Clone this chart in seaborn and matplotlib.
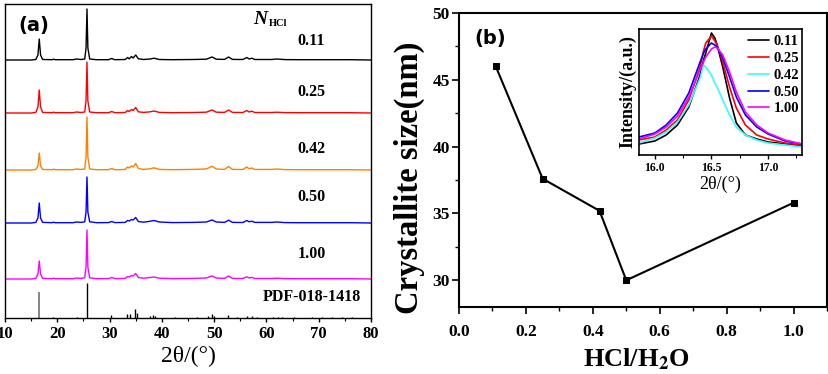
import numpy as np
import pandas as pd
import matplotlib
matplotlib.use("Agg")
import matplotlib.pyplot as plt
from matplotlib.ticker import MultipleLocator
import seaborn as sns

# ---------------- data ----------------
# (a) XRD patterns: 2theta grid and intensities (above each baseline, arbitrary units)
theta = [10, 15.0, 15.9, 16.3, 16.55, 16.8, 17.2, 19.0, 19.3, 19.6, 23.0, 23.7, 24.5,
         25.25, 25.5, 25.68, 25.85, 26.2, 27.5, 29.8, 30.4, 31.0, 33.0, 33.45, 33.75,
         34.2, 34.5, 35.0, 35.5, 36.5, 37.8, 38.5, 39.5, 42.0, 46.0, 48.5, 49.6, 50.4,
         52.0, 52.75, 53.5, 55.5, 56.25, 56.7, 57.2, 57.8, 61.0, 62.0, 63.5, 66.0,
         70.0, 76.0, 80.0]

xrd_011 = [0, 0, 0.5, 5, 21, 5, 0.5, 0.3, 0.8, 0.3, 0.3, 1.0, 0.5,
           1.0, 12, 51, 12, 1.0, 0.3, 0.3, 1.5, 0.3, 0.5, 2.5, 1.2,
           3.5, 2.0, 5.0, 1.2, 0.5, 1.0, 1.8, 0.5, 0.3, 0.5, 0.8, 3.0, 0.8,
           0.6, 3.0, 0.6, 0.5, 2.5, 1.0, 1.8, 0.5, 0.5, 1.0, 0.4, 0.3,
           0.3, 0.3, 0]
xrd_025 = [0, 0, 0.6, 6, 23, 6, 0.6, 0.3, 0.8, 0.3, 0.3, 1.0, 0.5,
           1.0, 12, 51, 12, 1.0, 0.3, 0.3, 1.5, 0.3, 0.5, 2.5, 1.5,
           3.5, 2.5, 5.5, 1.2, 0.6, 1.2, 2.0, 0.6, 0.3, 0.5, 0.8, 3.0, 0.8,
           0.6, 3.0, 0.6, 0.5, 2.5, 1.0, 1.8, 0.5, 0.5, 0.8, 0.4, 0.3,
           0.3, 0.3, 0]
xrd_042 = [0, 0, 0.5, 4, 17, 4, 0.5, 0.3, 0.8, 0.3, 0.3, 1.0, 0.5,
           1.0, 13, 53, 13, 1.0, 0.3, 0.3, 1.5, 0.3, 0.5, 3.0, 2.0,
           4.0, 3.0, 6.5, 1.5, 0.6, 1.2, 2.2, 0.6, 0.3, 0.6, 1.0, 3.8, 1.0,
           0.6, 3.5, 0.6, 0.5, 3.0, 1.2, 2.0, 0.5, 0.6, 1.0, 0.4, 0.3,
           0.3, 0.3, 0]
xrd_050 = [0, 0, 0.6, 5, 20, 5, 0.6, 0.3, 0.8, 0.3, 0.3, 1.0, 0.6,
           1.2, 11, 46, 11, 1.2, 0.3, 0.4, 1.5, 0.4, 0.6, 2.5, 2.0,
           3.5, 3.0, 5.5, 1.5, 0.8, 1.8, 2.5, 1.0, 0.4, 0.6, 1.0, 3.0, 1.0,
           0.6, 2.8, 0.6, 0.5, 2.5, 1.2, 1.8, 0.6, 0.6, 1.0, 0.4, 0.3,
           0.3, 0.3, 0]
xrd_100 = [0, 0, 0.6, 5, 18, 5, 0.6, 0.3, 0.8, 0.3, 0.3, 1.0, 0.6,
           1.2, 12, 49, 12, 1.2, 0.3, 0.4, 1.5, 0.4, 0.6, 2.5, 2.0,
           3.5, 3.0, 5.5, 1.5, 0.8, 1.5, 2.0, 0.8, 0.4, 0.6, 1.0, 3.0, 1.0,
           0.6, 3.0, 0.6, 0.5, 2.2, 1.0, 1.6, 0.5, 0.5, 0.8, 0.4, 0.3,
           0.3, 0.3, 0]

samples = ["0.11", "0.25", "0.42", "0.50", "1.00"]
patterns = [xrd_011, xrd_025, xrd_042, xrd_050, xrd_100]

# standard card PDF-018-1418 stick positions / heights
pdf_pos = [16.57, 19.25, 23.85, 25.63, 30.3, 33.4, 33.9, 34.87, 35.2, 37.8, 38.3,
           38.7, 42.5, 46.7, 48.9, 49.6, 49.9, 52.6, 54.3, 56.2, 57.2, 58.2, 61.3,
           62.2, 63.0, 65.2, 68.7, 70.6, 72.5, 74.5, 76.4]
pdf_h = [26, 1, 1.5, 35, 3, 4, 4, 9, 5, 2.5, 3,
         2, 1, 1, 2, 4, 2, 3, 1, 2, 2, 1, 1.5,
         1.5, 1.5, 1, 1, 1, 1, 1, 1]

# (b) crystallite size vs HCl/H2O
ratio = [0.11, 0.25, 0.42, 0.50, 1.00]
size_nm = [46.0, 37.6, 35.2, 30.0, 35.8]

# inset: peak near 16.5 deg
theta_in = [15.86, 16.0, 16.1, 16.2, 16.3, 16.4, 16.43, 16.45, 16.5, 16.53, 16.55,
            16.6, 16.66, 16.72, 16.8, 16.9, 17.0, 17.15, 17.3]
pk_011 = [11, 14, 20, 30, 48, 80, 95, 102, 122, 117, 110, 88, 57, 32, 20, 16, 13, 11, 9]
pk_025 = [15, 18, 25, 35, 55, 88, 104, 112, 119, 114, 110, 93, 68, 47, 30, 20, 16, 12, 10]
pk_042 = [12, 17, 23, 33, 50, 77, 90, 88, 80, 72, 68, 55, 40, 28, 20, 15, 12, 10, 8]
pk_050 = [18, 22, 30, 42, 62, 93, 102, 106, 112, 110, 108, 97, 78, 58, 40, 28, 21, 14, 11]
pk_100 = [16, 21, 28, 39, 58, 85, 93, 98, 106, 108, 107, 100, 83, 63, 43, 30, 22, 15, 11]
peaks = [pk_011, pk_025, pk_042, pk_050, pk_100]

# ---------------- style ----------------
colors = ["#000000", "#FF0000", "#FF8000", "#0000FF", "#FF00FF"]
inset_colors = ["#000000", "#FF0000", "#33FFFF", "#0000FF", "#FF00FF"]
offsets = [258, 205, 148, 95, 39]
label_y = [277, 226.5, 169, 121, 64]

sns.set_theme(style="ticks")
plt.rcParams["font.family"] = ["Liberation Serif", "DejaVu Serif"]
plt.rcParams["mathtext.fontset"] = "stix"
for k in ["text.color", "axes.labelcolor", "xtick.color", "ytick.color", "axes.edgecolor"]:
    plt.rcParams[k] = "black"

W, H = 829, 374
fig = plt.figure(figsize=(W / 100, H / 100), dpi=100)
axL = fig.add_axes([5 / W, 56 / H, 366 / W, 314 / H])
axR = fig.add_axes([459 / W, 67 / H, 368 / W, 294 / H])
axI = fig.add_axes([639 / W, 219 / H, 163 / W, 126 / H])

# ---------------- panel (a) ----------------
for name, pat, c, off in zip(samples, patterns, colors, offsets):
    df = pd.DataFrame({"theta": theta, "I": np.array(pat) + off})
    sns.lineplot(data=df, x="theta", y="I", color=c, lw=1.0, ax=axL,
                 estimator=None, sort=False, legend=False)
axL.vlines(pdf_pos[:1], 0, pdf_h[:1], colors="#707070", lw=1.2)
axL.vlines(pdf_pos[1:], 0, pdf_h[1:], colors="black", lw=1.0)

axL.set_xlim(10, 80)
axL.set_ylim(0, 314)
axL.set_yticks([])
axL.xaxis.set_major_locator(MultipleLocator(10))
axL.xaxis.set_minor_locator(MultipleLocator(5))
axL.tick_params(axis="x", which="major", direction="out", length=3, width=1, pad=3,
                labelsize=12)
axL.tick_params(axis="x", which="minor", direction="out", length=2, width=0.8)
for lab in axL.get_xticklabels():
    lab.set_fontweight("bold")
for s in axL.spines.values():
    s.set_linewidth(1.0)
axL.set_xlabel("")
axL.set_ylabel("")
axL.text(0.5, -0.088, "2θ/(°)", transform=axL.transAxes, ha="center", va="top",
         fontsize=17)

axL.text(15.6, 293, "(a)", fontsize=14, fontweight="bold", family="DejaVu Sans",
         ha="center", va="center")
axL.text(57.4, 298, "N", fontsize=14, fontweight="bold", style="italic",
         ha="left", va="center")
axL.text(60.4, 294.5, "HCl", fontsize=7.5, fontweight="bold", ha="left", va="center")
for name, ly in zip(samples, label_y):
    axL.text(68.6, ly, name, fontsize=11.5, fontweight="bold", ha="center", va="center")
axL.text(68.6, 21, "PDF-018-1418", fontsize=11.5, fontweight="bold",
         ha="center", va="center")

# ---------------- panel (b) ----------------
dfb = pd.DataFrame({"ratio": ratio, "size": size_nm})
sns.lineplot(data=dfb, x="ratio", y="size", color="black", lw=1.5, marker="s",
             markersize=5, markeredgecolor="black", ax=axR, legend=False)
axR.set_xlim(0, 1.1)
axR.set_ylim(28, 50)
axR.xaxis.set_major_locator(MultipleLocator(0.2))
axR.xaxis.set_minor_locator(MultipleLocator(0.1))
axR.yaxis.set_major_locator(MultipleLocator(5))
axR.yaxis.set_minor_locator(MultipleLocator(2.5))
axR.xaxis.set_major_formatter(matplotlib.ticker.FormatStrFormatter("%.1f"))
axR.tick_params(axis="both", which="major", direction="out", length=5, width=1.2,
                labelsize=12.5)
axR.tick_params(axis="both", which="minor", direction="out", length=3, width=1.0)
axR.tick_params(axis="x", which="major", pad=7)
axR.tick_params(axis="y", which="major", pad=1.5)
for lab in axR.get_xticklabels() + axR.get_yticklabels():
    lab.set_fontweight("bold")
for s in axR.spines.values():
    s.set_linewidth(1.5)
axR.set_xlabel(r"HCl/H$_\mathbf{2}$O", fontsize=19, fontweight="bold")
axR.set_ylabel("Crystallite size(nm)", fontsize=23.5, fontweight="bold")
axR.xaxis.set_label_coords(0.481, -0.135)
axR.yaxis.set_label_coords(-0.093, 0.44)
axR.text(0.093, 48.07, "(b)", fontsize=14, fontweight="bold", family="DejaVu Sans",
         ha="center", va="center")

# ---------------- inset ----------------
rows = []
for name, pk in zip(samples, peaks):
    for t, v in zip(theta_in, pk):
        rows.append({"theta": t, "I": v, "N": name})
dfi = pd.DataFrame(rows)
sns.lineplot(data=dfi, x="theta", y="I", hue="N", palette=inset_colors, lw=1.2,
             ax=axI, estimator=None, sort=False)
axI.set_xlim(15.86, 17.3)
axI.set_ylim(0, 126)
axI.set_yticks([])
axI.set_xticks([16.0, 16.5, 17.0])
axI.xaxis.set_minor_locator(MultipleLocator(0.25))
axI.xaxis.set_major_formatter(matplotlib.ticker.FormatStrFormatter("%.1f"))
axI.tick_params(axis="x", which="major", direction="out", length=3, width=1,
                labelsize=8.5, pad=2)
axI.tick_params(axis="x", which="minor", direction="out", length=2, width=0.8)
for lab in axI.get_xticklabels():
    lab.set_fontweight("bold")
for s in axI.spines.values():
    s.set_linewidth(1.2)
axI.set_xlabel("2θ/(°)", fontsize=13, labelpad=1)
axI.set_ylabel("Intensity/(a.u.)", fontsize=13, fontweight="bold", labelpad=2)
leg = axI.legend(loc="upper right", bbox_to_anchor=(1.02, 1.0), frameon=False,
                 prop={"weight": "bold", "size": 10.5, "family": "Liberation Serif"},
                 handlelength=1.5, handletextpad=0.3, labelspacing=0.25,
                 borderaxespad=0.2, borderpad=0.2)
for line in leg.get_lines():
    line.set_linewidth(1.2)

fig.savefig("out.png", dpi=100)
